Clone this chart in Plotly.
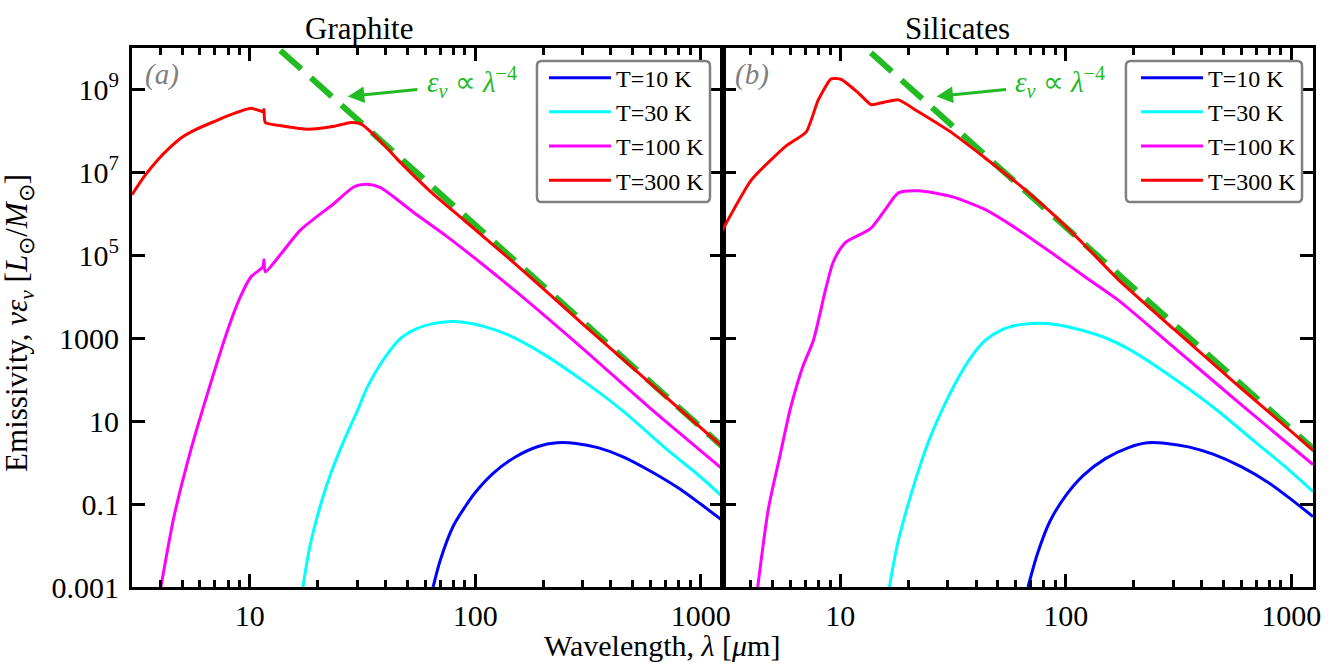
import math
import plotly.graph_objects as go
from plotly.subplots import make_subplots

# ---------------- data ----------------
# Graphite panel
g300_lam = [3.0, 3.4, 3.9, 4.4, 4.9, 5.8, 6.9, 8.3, 10.1, 11.0, 11.45, 11.55, 11.7, 14.2, 18.1, 23.7, 28.1, 31, 34.4, 40, 45.4, 63.5, 89, 150, 300, 600, 1250]
g300_val = [2.9e6, 8e6, 2.0e7, 3.9e7, 6.5e7, 1.1e8, 1.66e8, 2.5e8, 3.5e8, 3.1e8, 2.9e8, 3.3e8, 1.6e8, 1.3e8, 1.1e8, 1.3e8, 1.6e8, 1.5e8, 9.5e7, 4.2e7, 2.0e7, 3.4e6, 7.1e5, 6.3e4, 2.2e3, 80, 2.4]
g100_lam = [4.03, 4.6, 5.47, 6.5, 7.98, 9.0, 10.1, 11.4, 11.55, 11.7, 13.5, 16.8, 23.7, 29, 33.3, 38, 53.7, 75.5, 150, 300, 600, 1250]
g100_val = [1e-3, 0.048, 2.0, 48, 1.6e3, 9e3, 3.0e4, 5.2e4, 7.8e4, 4.0e4, 9.6e4, 4.1e5, 1.8e6, 4.5e6, 5.2e6, 4.3e6, 1.05e6, 2.75e5, 1.4e4, 560, 20, 0.7]
g30_lam = [17.2, 18.5, 20.7, 23, 26.2, 30, 33.3, 40, 46.8, 55, 65, 75, 90, 110, 140, 200, 300, 450, 700, 1000, 1250]
g30_val = [1e-3, 0.01, 0.105, 0.6, 3.5, 18, 68, 360, 1.0e3, 1.7e3, 2.25e3, 2.5e3, 2.4e3, 1.9e3, 1.2e3, 420, 95, 18, 2.2, 0.45, 0.15]
g10_lam = [65, 70, 80, 90, 100, 120, 150, 190, 230, 280, 350, 450, 600, 800, 1000, 1250]
g10_val = [1e-3, 0.0045, 0.03, 0.085, 0.19, 0.55, 1.35, 2.45, 3.0, 2.9, 2.3, 1.4, 0.62, 0.24, 0.1, 0.04]

# Silicates panel
s300_lam = [2.97, 4.03, 5.7, 7.06, 7.98, 9.1, 10.1, 12.0, 13.7, 15.8, 18.1, 22.2, 31.2, 44, 61.7, 86.5, 122, 171, 300, 600, 1250]
s300_val = [3.7e5, 6.6e6, 4.2e7, 9.5e7, 5.6e8, 1.8e9, 1.74e9, 8.3e8, 4.3e8, 5.0e8, 5.6e8, 2.9e8, 9.1e7, 2.2e7, 5.2e6, 1.05e6, 1.7e5, 2.6e4, 1.7e3, 62, 2.0]
s100_lam = [4.3, 4.8, 5.4, 6.0, 6.8, 7.6, 8.6, 9.3, 10.5, 13.6, 15.8, 18.1, 22.2, 31.2, 44, 61.7, 86.5, 122, 171, 300, 600, 1250]
s100_val = [1e-3, 0.08, 1.5, 20, 200, 910, 1.5e4, 6.9e4, 2.0e5, 4.4e5, 1.26e6, 3.2e6, 3.6e6, 2.6e6, 1.26e6, 4.1e5, 1.15e5, 3.0e4, 8.3e3, 620, 25, 0.9]
s30_lam = [16.5, 18, 20, 22.5, 25, 29, 33, 38, 44, 52, 61.7, 75.7, 90, 102, 145, 200, 300, 450, 700, 1000, 1250]
s30_val = [1e-3, 0.012, 0.1, 0.8, 4, 25, 100, 350, 900, 1.6e3, 2.1e3, 2.3e3, 2.15e3, 1.9e3, 1.1e3, 470, 110, 22, 3.0, 0.6, 0.2]
s10_lam = [68, 75, 85, 100, 120, 150, 190, 230, 280, 350, 450, 600, 800, 1000, 1250]
s10_val = [1e-3, 0.0065, 0.038, 0.16, 0.5, 1.25, 2.3, 3.0, 2.9, 2.4, 1.6, 0.8, 0.32, 0.13, 0.05]

# epsilon_nu ~ lambda^-4 guide lines (two end points each)
gG_lam = [10, 1300]
gG_val = [4.0e10, 2.0]
gS_lam = [10, 1300]
gS_val = [3.5e10, 1.8]

temps = ["T=10 K", "T=30 K", "T=100 K", "T=300 K"]
colors = ["#0000ff", "#00ffff", "#ff00ff", "#ff0000"]
smooth = [0.8, 0.9, 0.7, 0.5]

x_major = [10, 100, 1000]
x_minor = [3, 4, 5, 6, 7, 8, 9, 20, 30, 40, 50, 60, 70, 80, 90, 200, 300, 400, 500, 600, 700, 800, 900]
y_ticks = [1e-3, 1e-1, 1e1, 1e3, 1e5, 1e7, 1e9]
y_text = ["0.001", "0.1", "10", "1000", "10<sup>5</sup>", "10<sup>7</sup>", "10<sup>9</sup>"]

# annotation anchor points (wavelength, emissivity)
arrow_heads = [(27.2, 6.8e8), (26.7, 6.8e8)]
label_pos = [(60, 1.55e9), (58.6, 1.55e9)]

FONT = "Liberation Serif"
GREEN = "#22bb22"

fig = make_subplots(rows=1, cols=2, horizontal_spacing=0.0)

panels = [
    (1, [(g10_lam, g10_val), (g30_lam, g30_val), (g100_lam, g100_val), (g300_lam, g300_val)], (gG_lam, gG_val), "legend"),
    (2, [(s10_lam, s10_val), (s30_lam, s30_val), (s100_lam, s100_val), (s300_lam, s300_val)], (gS_lam, gS_val), "legend2"),
]

for col, series, guide, leg in panels:
    fig.add_trace(go.Scatter(x=guide[0], y=guide[1], mode="lines", showlegend=False,
                             line=dict(color=GREEN, width=6, dash="28px,13px")), row=1, col=col)
    for (lam, val), name, c, sm in zip(series, temps, colors, smooth):
        fig.add_trace(go.Scatter(x=lam, y=val, mode="lines", name=name, legend=leg,
                                 line=dict(color=c, width=3, shape="spline", smoothing=sm)),
                      row=1, col=col)

axis_common = dict(showline=True, linewidth=3, linecolor="black", mirror="ticks",
                   ticks="inside", tickwidth=2.5, tickcolor="black", showgrid=False, zeroline=False,
                   tickfont=dict(family=FONT, size=30, color="black"))

for col in (1, 2):
    fig.update_xaxes(type="log", range=[0.4771, 3.0969], tickvals=x_major, ticktext=["10", "100", "1000"],
                     ticklen=13, minor=dict(ticks="inside", ticklen=7, tickwidth=2.5, tickcolor="black", tickvals=x_minor),
                     **axis_common, row=1, col=col)
    fig.update_yaxes(type="log", range=[-3, 10], tickvals=y_ticks, ticktext=y_text, ticklen=13,
                     ticklabelstandoff=4, showticklabels=(col == 1), **axis_common, row=1, col=col)

# Titles and labels
fig.add_annotation(text="Graphite", x=0.192, y=1.0, xref="paper", yref="paper", xanchor="center", yanchor="bottom",
                   showarrow=False, font=dict(family=FONT, size=31, color="black"))
fig.add_annotation(text="Silicates", x=0.699, y=1.0, xref="paper", yref="paper", xanchor="center", yanchor="bottom",
                   showarrow=False, font=dict(family=FONT, size=31, color="black"))
fig.add_annotation(text="Wavelength, <i>λ</i> [<i>μ</i>m]", x=0.449, y=0, xref="paper", yref="paper",
                   xanchor="center", yanchor="top", yshift=-40, showarrow=False,
                   font=dict(family=FONT, size=30, color="black"))
fig.add_annotation(text="Emissivity, <i>νε<sub>ν</sub></i> [<i>L</i><sub>⊙</sub>/<i>M</i><sub>⊙</sub>]",
                   x=0, y=0.49, xref="paper", yref="paper", xanchor="right", yanchor="middle", xshift=-91, textangle=-90,
                   showarrow=False, font=dict(family=FONT, size=31, color="black"))

for xr, yr, lab in [("x domain", "y domain", "(a)"), ("x2 domain", "y2 domain", "(b)")]:
    fig.add_annotation(text="<i>" + lab + "</i>", x=0.018, y=0.985, xref=xr, yref=yr, xanchor="left", yanchor="top",
                       showarrow=False, font=dict(family=FONT, size=29, color="#808080"))

# guide-line label and arrow (log axes take log10 positions)
for (xr, yr), head, txt in zip([("x", "y"), ("x2", "y2")], arrow_heads, label_pos):
    fig.add_annotation(x=math.log10(head[0]), y=math.log10(head[1]), xref=xr, yref=yr, text="", showarrow=True,
                       ax=71, ay=-7, arrowhead=2, arrowsize=1.1, arrowwidth=3, arrowcolor=GREEN, standoff=0)
    fig.add_annotation(x=math.log10(txt[0]), y=math.log10(txt[1]), xref=xr, yref=yr, xanchor="left", showarrow=False,
                       text="<i>ε<sub>ν</sub></i> ∝ <i>λ</i><sup>−4</sup>", font=dict(family=FONT, size=29, color=GREEN))


# rounded legend frames (paper fractions of the plot area)
def rounded_box(x0, y0, x1, y1, rx=0.004, ry=0.009):
    return (f"M {x0 + rx} {y1} L {x1 - rx} {y1} Q {x1} {y1} {x1} {y1 - ry} "
            f"L {x1} {y0 + ry} Q {x1} {y0} {x1 - rx} {y0} L {x0 + rx} {y0} Q {x0} {y0} {x0} {y0 + ry} "
            f"L {x0} {y1 - ry} Q {x0} {y1} {x0 + rx} {y1} Z")


legend_frames = [(0.3429, 0.7143, 0.4894, 0.9759), (0.8416, 0.7143, 0.9907, 0.9759)]
for fx0, fy0, fx1, fy1 in legend_frames:
    fig.add_shape(type="path", path=rounded_box(fx0, fy0, fx1, fy1), xref="paper", yref="paper",
                  line=dict(color="#808080", width=2.5), fillcolor="white", layer="above")

legend_style = dict(bgcolor="rgba(0,0,0,0)", borderwidth=0, xanchor="right", yanchor="top",
                    font=dict(family=FONT, size=24, color="black"), tracegroupgap=0, itemwidth=62)
fig.update_layout(
    width=1344, height=664,
    margin=dict(l=132, r=31, t=48, b=77),
    paper_bgcolor="white", plot_bgcolor="white",
    legend=dict(x=0.4894, y=0.986, xref="paper", yref="paper", **legend_style),
    legend2=dict(x=0.9907, y=0.986, xref="paper", yref="paper", **legend_style),
)

fig.write_html("out.html")
